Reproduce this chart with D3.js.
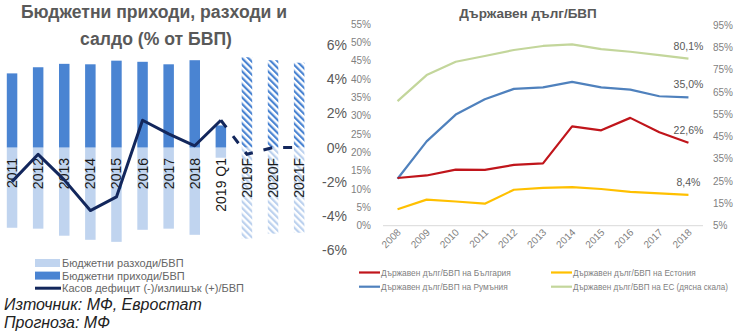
<!DOCTYPE html>
<html>
<head>
<meta charset="utf-8">
<script src="https://cdn.jsdelivr.net/npm/d3@7"></script>
<style>
  html, body { margin: 0; padding: 0; background: #fff; }
  svg { display: block; }
  text { font-family: "Liberation Sans", Arial, sans-serif; }
</style>
</head>
<body>
<svg id="chart" width="740" height="331"></svg>
<script>
// ---- Budget chart data (% of GDP) ----
const budgetCategories = ["2011", "2012", "2013", "2014", "2015", "2016", "2017", "2018", "2019 Q1", "2019F", "2020F", "2021F"];
const forecastCategories = ["2019F", "2020F", "2021F"];
const revenue = [32.6, 35.3, 36.8, 36.6, 38.2, 37.7, 36.6, 38.4, 9.7, 39.7, 38.4, 37.3];
const expenditure = [-35.3, -35.7, -38.8, -40.6, -41.5, -36.2, -35.7, -38.4, -4.5, -40.1, -37.9, -37.5];
const cashBalance = [-2.0, -0.4, -1.9, -3.7, -2.9, 1.6, 0.8, 0.1, 1.6, -0.4, 0.0, 0.0];
const balanceTicks = [-6, -4, -2, 0, 2, 4, 6];

// ---- Government debt chart data (% of GDP) ----
const debtYears = ["2008", "2009", "2010", "2011", "2012", "2013", "2014", "2015", "2016", "2017", "2018"];
const debtBulgaria = [13.0, 13.7, 15.3, 15.2, 16.6, 17.0, 27.1, 26.0, 29.4, 25.5, 22.6];
const debtRomania = [12.8, 23.0, 30.3, 34.5, 37.3, 37.7, 39.2, 37.7, 37.1, 35.3, 35.0];
const debtEstonia = [4.5, 7.1, 6.6, 6.0, 9.8, 10.3, 10.5, 10.0, 9.2, 8.8, 8.4];
const debtEU = [61.0, 72.7, 78.7, 81.3, 84.0, 85.8, 86.5, 84.4, 83.2, 81.7, 80.1];
const debtLeftTicks = [0, 5, 10, 15, 20, 25, 30, 35, 40, 45, 50, 55];
const debtRightTicks = [5, 15, 25, 35, 45, 55, 65, 75, 85, 95];

const svg = d3.select("#chart");
const fmtComma = v => d3.format(".1f")(v).replace(".", ",") + "%";

// hatch patterns for forecast bars
const defs = svg.append("defs");
function hatch(id, color, width) {
  const p = defs.append("pattern")
    .attr("id", id).attr("patternUnits", "userSpaceOnUse")
    .attr("width", 4.6).attr("height", 4.6)
    .attr("patternTransform", "rotate(-45)");
  p.append("rect").attr("width", 4.6).attr("height", 4.6).attr("fill", "#fff");
  p.append("rect").attr("x", 0).attr("width", width).attr("height", 4.6).attr("fill", color);
}
hatch("hatchRev", "#4a84d2", 2.2);
hatch("hatchExp", "#bcd1ee", 2.2);

// =================== Left: budget chart ===================
const bx = d3.scalePoint().domain(budgetCategories).range([-1, 312.2]).padding(0.5);
const barW = 10.5;
const yBal = d3.scaleLinear().domain([-6, 6]).range([249.8, 45.2]);
const yBar = d3.scaleLinear().domain([-45, 45]).range([249.8, 45.2]);
const isFc = c => forecastCategories.includes(c);

const left = svg.append("g");

left.append("g").selectAll("rect.exp")
  .data(budgetCategories)
  .join("rect")
  .attr("x", c => bx(c) - barW / 2)
  .attr("width", barW)
  .attr("y", yBar(0))
  .attr("height", (c, i) => yBar(expenditure[i]) - yBar(0))
  .attr("fill", c => isFc(c) ? "url(#hatchExp)" : "#c0d4ef");

left.append("g").selectAll("rect.rev")
  .data(budgetCategories)
  .join("rect")
  .attr("x", c => bx(c) - barW / 2)
  .attr("width", barW)
  .attr("y", (c, i) => yBar(revenue[i]))
  .attr("height", (c, i) => yBar(0) - yBar(revenue[i]))
  .attr("fill", c => isFc(c) ? "url(#hatchRev)" : "#4a84d2");

// category labels, rotated
left.append("g").selectAll("text")
  .data(budgetCategories)
  .join("text")
  .attr("transform", c => `translate(${bx(c) + 5},158) rotate(-90)`)
  .attr("text-anchor", "end")
  .attr("font-size", 14)
  .attr("fill", "#1a1a1a")
  .text(c => c);

// balance axis (right side of the budget chart)
left.append("g").selectAll("text")
  .data(balanceTicks)
  .join("text")
  .attr("x", 347)
  .attr("y", d => yBal(d) + 5)
  .attr("text-anchor", "end")
  .attr("font-size", 14)
  .attr("fill", "#595959")
  .text(d => d + "%");

// balance line: actual values solid, forecast dashed
const balLine = d3.line().x(d => bx(d.c)).y(d => yBal(d.v));
const balData = budgetCategories.map((c, i) => ({ c, v: cashBalance[i] }));
const firstFc = budgetCategories.indexOf("2019 Q1");
left.append("path")
  .datum(balData.slice(0, firstFc + 1))
  .attr("d", balLine)
  .attr("fill", "none").attr("stroke", "#13275c").attr("stroke-width", 3)
  .attr("stroke-linejoin", "round");
left.append("path")
  .datum(balData.slice(firstFc))
  .attr("d", balLine)
  .attr("fill", "none").attr("stroke", "#13275c").attr("stroke-width", 3)
  .attr("stroke-dasharray", "9,11");

// title
const t1 = left.append("text")
  .attr("text-anchor", "middle")
  .attr("font-family", "'Open Sans', sans-serif")
  .attr("font-weight", "bold").attr("font-size", 17.6)
  .attr("fill", "#595959");
t1.append("tspan").attr("x", 154).attr("y", 18).text("Бюджетни приходи, разходи и");
t1.append("tspan").attr("x", 156).attr("y", 44.5).text("салдо (% от БВП)");

// legend
const legL = left.append("g").attr("font-size", 11).attr("fill", "#666");
const legItems = [
  { label: "Бюджетни разходи/БВП", type: "rect", color: "#c0d4ef" },
  { label: "Бюджетни приходи/БВП", type: "rect", color: "#4a84d2" },
  { label: "Касов дефицит (-)/излишък (+)/БВП", type: "line", color: "#13275c" }
];
legItems.forEach((d, i) => {
  const y = 263 + i * 12.6;
  if (d.type === "rect") {
    legL.append("rect").attr("x", 35).attr("y", y - 4).attr("width", 25).attr("height", 8).attr("fill", d.color);
  } else {
    legL.append("line").attr("x1", 35).attr("x2", 61).attr("y1", y).attr("y2", y)
      .attr("stroke", d.color).attr("stroke-width", 3);
  }
  legL.append("text").attr("x", 62).attr("y", y + 4).text(d.label);
});

// source notes
const notes = left.append("g").attr("font-size", 16).attr("font-style", "italic").attr("fill", "#222");
notes.append("text").attr("x", 4).attr("y", 310).text("Източник: МФ, Евростат");
notes.append("text").attr("x", 4).attr("y", 328).text("Прогноза: МФ");

// =================== Right: debt chart ===================
const dx = d3.scalePoint().domain(debtYears).range([383, 703]).padding(0.5);
const yL = d3.scaleLinear().domain([0, 55]).range([225.7, 24]);
const yR = d3.scaleLinear().domain([5, 95]).range([225.7, 25.5]);
const axisFont = "'Liberation Sans', Arial, sans-serif";

const right = svg.append("g");

right.append("text")
  .attr("x", 528).attr("y", 18).attr("text-anchor", "middle")
  .attr("font-family", "'Open Sans', sans-serif")
  .attr("font-weight", "bold").attr("font-size", 13.5)
  .attr("fill", "#595959")
  .text("Държавен дълг/БВП");

// baseline
right.append("line")
  .attr("x1", 383).attr("x2", 703).attr("y1", yL(0)).attr("y2", yL(0))
  .attr("stroke", "#d9d9d9").attr("stroke-width", 1);

// left axis labels
right.append("g").selectAll("text")
  .data(debtLeftTicks)
  .join("text")
  .attr("x", 371).attr("y", d => yL(d) + 3.5)
  .attr("text-anchor", "end")
  .attr("font-family", axisFont).attr("font-size", 10)
  .attr("fill", "#7f7f7f")
  .text(d => d + "%");

// right axis labels
right.append("g").selectAll("text")
  .data(debtRightTicks)
  .join("text")
  .attr("x", 713).attr("y", d => yR(d) + 3.5)
  .attr("text-anchor", "start")
  .attr("font-family", axisFont).attr("font-size", 10)
  .attr("fill", "#7f7f7f")
  .text(d => d + "%");

// x axis labels
right.append("g").selectAll("text")
  .data(debtYears)
  .join("text")
  .attr("transform", d => `translate(${dx(d) + 4},233) rotate(-45)`)
  .attr("text-anchor", "end")
  .attr("font-family", axisFont).attr("font-size", 10)
  .attr("fill", "#7f7f7f")
  .text(d => d);

const series = [
  { name: "Държавен дълг/БВП на ЕС (дясна скала)", values: debtEU, color: "#c3d69b", y: yR },
  { name: "Държавен дълг/БВП на Румъния", values: debtRomania, color: "#4f81bd", y: yL },
  { name: "Държавен дълг/БВП на България", values: debtBulgaria, color: "#c0151b", y: yL },
  { name: "Държавен дълг/БВП на Естония", values: debtEstonia, color: "#ffc000", y: yL }
];

series.forEach(s => {
  const line = d3.line().x((d, i) => dx(debtYears[i])).y(d => s.y(d));
  right.append("path")
    .datum(s.values)
    .attr("d", line)
    .attr("fill", "none")
    .attr("stroke", s.color)
    .attr("stroke-width", 2.2)
    .attr("stroke-linejoin", "round");
  const last = s.values[s.values.length - 1];
  right.append("text")
    .attr("x", dx(debtYears[debtYears.length - 1]))
    .attr("y", s.y(last) - 9)
    .attr("text-anchor", "middle")
    .attr("font-family", axisFont).attr("font-size", 10.5)
    .attr("fill", "#595959")
    .text(fmtComma(last));
});

// legend: entries are horizontally condensed to fit their column width
const legendOrder = [
  { s: series[2], x: 359, y: 272.5, w: 130 },
  { s: series[3], x: 551, y: 272.5, w: 123 },
  { s: series[1], x: 359, y: 286.7, w: 127 },
  { s: series[0], x: 551, y: 286.7, w: 155 }
];
const legR = right.append("g");
legendOrder.forEach(d => {
  legR.append("line").attr("x1", d.x).attr("x2", d.x + 21).attr("y1", d.y).attr("y2", d.y)
    .attr("stroke", d.s.color).attr("stroke-width", 2.2);
  const g = legR.append("g");
  const txt = g.append("text").attr("x", 0).attr("y", 0)
    .attr("font-family", axisFont).attr("font-size", 9.5)
    .attr("fill", "#7f7f7f")
    .text(d.s.name);
  const natural = txt.node().getComputedTextLength();
  const k = Math.min(1, d.w / natural);
  g.attr("transform", `translate(${d.x + 22},${d.y + 3.5}) scale(${k},1)`);
});
</script>
</body>
</html>
